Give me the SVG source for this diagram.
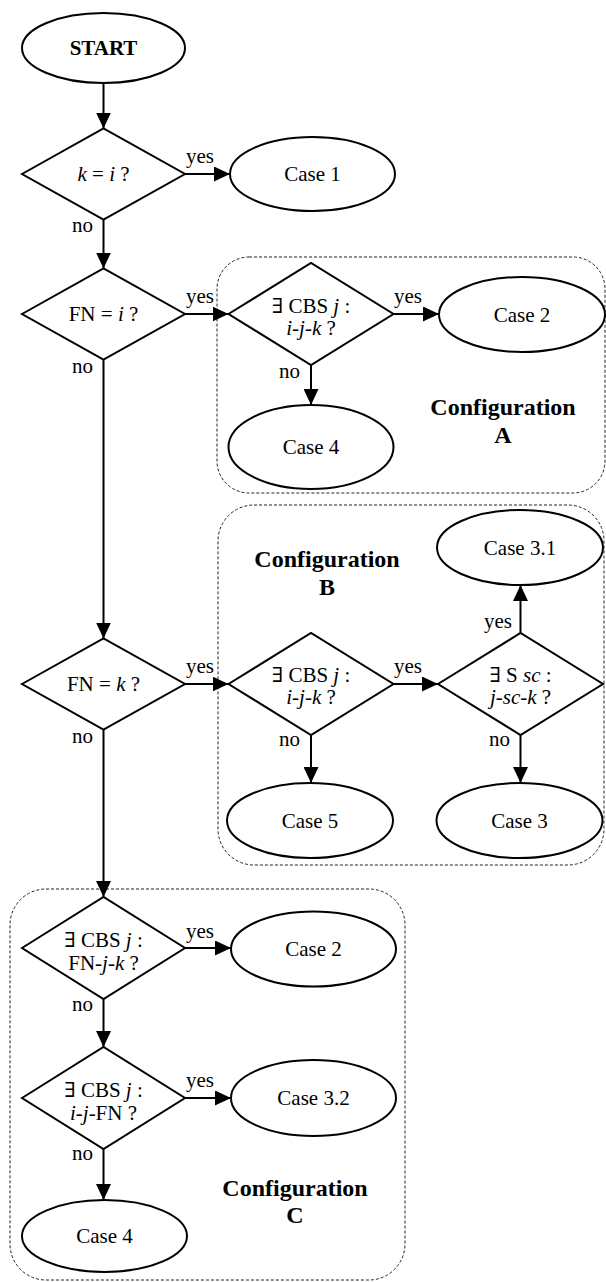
<svg xmlns="http://www.w3.org/2000/svg" width="606" height="1282" viewBox="0 0 606 1282">
<style>
.shape{fill:#fff;stroke:#000;stroke-width:2}
.cfg{fill:none;stroke:#222;stroke-width:1;stroke-dasharray:3 2}
.conn{fill:none;stroke:#000;stroke-width:2}
text{font-family:"Liberation Serif","DejaVu Serif",serif;font-size:21px;fill:#000}
.c{text-anchor:middle}
.e{text-anchor:end}
.b{font-weight:bold}
.cl{font-weight:bold;font-size:24px;text-anchor:middle}
.i{font-style:italic}
</style>
<defs>
<marker id="arr" markerUnits="userSpaceOnUse" markerWidth="16" markerHeight="15" refX="16" refY="7.5" orient="auto">
<path d="M0,0 L16,7.5 L0,15 z" fill="#000"/>
</marker>
</defs>
<rect width="606" height="1282" fill="#fff"/>

<g id="configA">
<rect class="cfg" x="217" y="257" width="388" height="236" rx="32" ry="32"/>
<text class="cl" x="503" y="415">Configuration</text>
<text class="cl" x="503" y="443">A</text>
</g>
<g id="configB">
<rect class="cfg" x="218" y="505" width="386" height="360" rx="36" ry="36"/>
<text class="cl" x="327" y="567">Configuration</text>
<text class="cl" x="327" y="595">B</text>
</g>
<g id="configC">
<rect class="cfg" x="10" y="889" width="395" height="391" rx="36" ry="36"/>
<text class="cl" x="295" y="1196">Configuration</text>
<text class="cl" x="295" y="1223">C</text>
</g>

<g id="connectors">
<line class="conn" x1="103.5" y1="83" x2="103.5" y2="128.5" marker-end="url(#arr)"/>
<line class="conn" x1="185" y1="174" x2="230" y2="174" marker-end="url(#arr)"/>
<line class="conn" x1="103.5" y1="219.5" x2="103.5" y2="268.5" marker-end="url(#arr)"/>
<line class="conn" x1="185" y1="314" x2="228.5" y2="314" marker-end="url(#arr)"/>
<line class="conn" x1="393.5" y1="314" x2="439" y2="314" marker-end="url(#arr)"/>
<line class="conn" x1="311" y1="365" x2="311" y2="405" marker-end="url(#arr)"/>
<line class="conn" x1="103.5" y1="359.5" x2="103.5" y2="638.5" marker-end="url(#arr)"/>
<line class="conn" x1="185" y1="684" x2="228.5" y2="684" marker-end="url(#arr)"/>
<line class="conn" x1="393.5" y1="684" x2="438" y2="684" marker-end="url(#arr)"/>
<line class="conn" x1="520.5" y1="633" x2="520.5" y2="585" marker-end="url(#arr)"/>
<line class="conn" x1="311" y1="735" x2="311" y2="783" marker-end="url(#arr)"/>
<line class="conn" x1="520.5" y1="735" x2="520.5" y2="783" marker-end="url(#arr)"/>
<line class="conn" x1="103.5" y1="729.5" x2="103.5" y2="897" marker-end="url(#arr)"/>
<line class="conn" x1="185" y1="948" x2="231" y2="948" marker-end="url(#arr)"/>
<line class="conn" x1="103.5" y1="999" x2="103.5" y2="1047" marker-end="url(#arr)"/>
<line class="conn" x1="185" y1="1098" x2="231" y2="1098" marker-end="url(#arr)"/>
<line class="conn" x1="103.5" y1="1149" x2="103.5" y2="1200" marker-end="url(#arr)"/>
<text x="186" y="163">yes</text>
<text class="e" x="93" y="232">no</text>
<text x="186" y="303">yes</text>
<text class="e" x="93" y="373">no</text>
<text x="394" y="303">yes</text>
<text class="e" x="300" y="378">no</text>
<text x="186" y="673">yes</text>
<text class="e" x="93" y="743">no</text>
<text x="394" y="673">yes</text>
<text class="e" x="512" y="628">yes</text>
<text class="e" x="300" y="746">no</text>
<text class="e" x="510" y="746">no</text>
<text x="186" y="938">yes</text>
<text class="e" x="93" y="1011">no</text>
<text x="186" y="1087">yes</text>
<text class="e" x="93" y="1160">no</text>
</g>

<g id="start">
<ellipse class="shape" cx="103.5" cy="48" rx="81.5" ry="35"/>
<text class="c b" x="103.5" y="55">START</text>
</g>
<g id="q_k_eq_i">
<polygon class="shape" points="22,174 103.5,128.5 185,174 103.5,219.5"/>
<text class="c" x="103.5" y="181"><tspan class="i">k</tspan> = <tspan class="i">i</tspan> ?</text>
</g>
<g id="case1">
<ellipse class="shape" cx="312.5" cy="174" rx="82.5" ry="37"/>
<text class="c" x="312.5" y="181">Case 1</text>
</g>
<g id="q_fn_eq_i">
<polygon class="shape" points="22,314 103.5,268.5 185,314 103.5,359.5"/>
<text class="c" x="103.5" y="321">FN = <tspan class="i">i</tspan> ?</text>
</g>
<g id="qA_cbs">
<polygon class="shape" points="228.5,314 311,263 393.5,314 311,365"/>
<text class="c" x="311" y="313">∃ CBS <tspan class="i">j</tspan> :</text>
<text class="c" x="311" y="335"><tspan class="i">i</tspan>-<tspan class="i">j</tspan>-<tspan class="i">k</tspan> ?</text>
</g>
<g id="caseA2">
<ellipse class="shape" cx="522" cy="314.5" rx="83" ry="37.5"/>
<text class="c" x="522" y="321.5">Case 2</text>
</g>
<g id="caseA4">
<ellipse class="shape" cx="311" cy="447" rx="82.5" ry="42"/>
<text class="c" x="311" y="454">Case 4</text>
</g>
<g id="q_fn_eq_k">
<polygon class="shape" points="22,684 103.5,638.5 185,684 103.5,729.5"/>
<text class="c" x="103.5" y="691">FN = <tspan class="i">k</tspan> ?</text>
</g>
<g id="qB_cbs">
<polygon class="shape" points="228.5,684 311,633 393.5,684 311,735"/>
<text class="c" x="311" y="682">∃ CBS <tspan class="i">j</tspan> :</text>
<text class="c" x="311" y="704"><tspan class="i">i</tspan>-<tspan class="i">j</tspan>-<tspan class="i">k</tspan> ?</text>
</g>
<g id="qB_sc">
<polygon class="shape" points="438,684 520.5,633 603,684 520.5,735"/>
<text class="c" x="520.5" y="682">∃ S <tspan class="i">sc</tspan> :</text>
<text class="c" x="520.5" y="704"><tspan class="i">j</tspan>-<tspan class="i">sc</tspan>-<tspan class="i">k</tspan> ?</text>
</g>
<g id="caseB31">
<ellipse class="shape" cx="520" cy="547.5" rx="83" ry="37.5"/>
<text class="c" x="520" y="554.5">Case 3.1</text>
</g>
<g id="caseB5">
<ellipse class="shape" cx="310" cy="820.5" rx="83" ry="37.5"/>
<text class="c" x="310" y="827.5">Case 5</text>
</g>
<g id="caseB3">
<ellipse class="shape" cx="519.5" cy="820.5" rx="83" ry="37.5"/>
<text class="c" x="519.5" y="827.5">Case 3</text>
</g>
<g id="qC_cbs1">
<polygon class="shape" points="22,948 103.5,897 185,948 103.5,999"/>
<text class="c" x="103.5" y="947">∃ CBS <tspan class="i">j</tspan> :</text>
<text class="c" x="103.5" y="970">FN-<tspan class="i">j</tspan>-<tspan class="i">k</tspan> ?</text>
</g>
<g id="caseC2">
<ellipse class="shape" cx="313.5" cy="949" rx="82.5" ry="37.5"/>
<text class="c" x="313.5" y="956">Case 2</text>
</g>
<g id="qC_cbs2">
<polygon class="shape" points="22,1098 103.5,1047 185,1098 103.5,1149"/>
<text class="c" x="103.5" y="1097">∃ CBS <tspan class="i">j</tspan> :</text>
<text class="c" x="103.5" y="1120"><tspan class="i">i</tspan>-<tspan class="i">j</tspan>-FN ?</text>
</g>
<g id="caseC32">
<ellipse class="shape" cx="313.5" cy="1098" rx="82.5" ry="38"/>
<text class="c" x="313.5" y="1105">Case 3.2</text>
</g>
<g id="caseC4">
<ellipse class="shape" cx="104.5" cy="1236" rx="82.5" ry="36"/>
<text class="c" x="104.5" y="1243">Case 4</text>
</g>
</svg>
